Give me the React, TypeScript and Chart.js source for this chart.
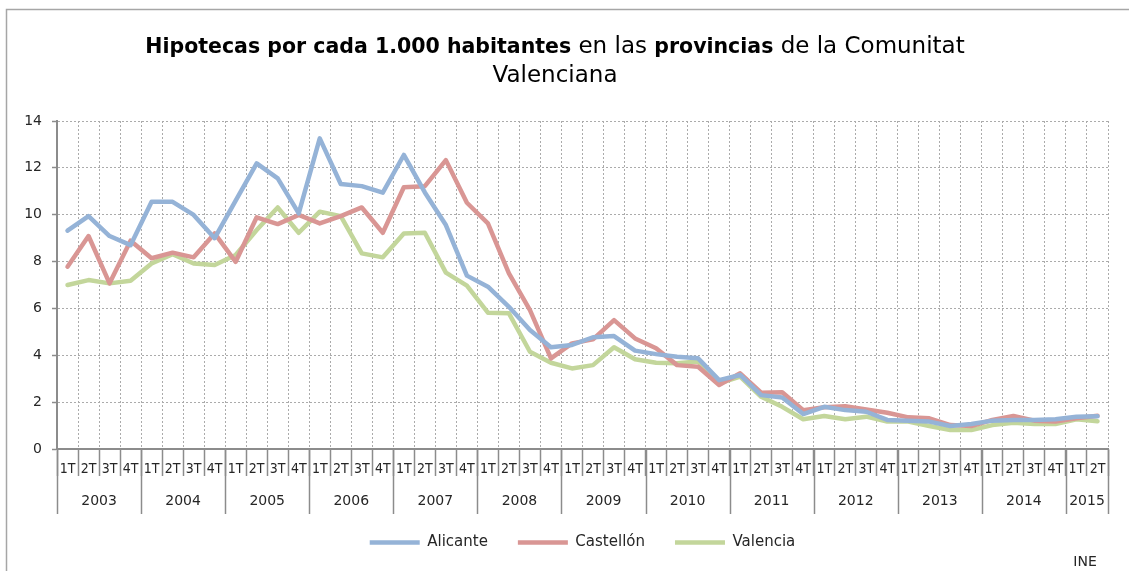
import React, { useEffect, useRef } from 'react';
import { Chart, registerables } from 'chart.js';

Chart.register(...registerables);

// ---- Data ----
const quarterLabels = [
  '1T', '2T', '3T', '4T', // 2003
  '1T', '2T', '3T', '4T', // 2004
  '1T', '2T', '3T', '4T', // 2005
  '1T', '2T', '3T', '4T', // 2006
  '1T', '2T', '3T', '4T', // 2007
  '1T', '2T', '3T', '4T', // 2008
  '1T', '2T', '3T', '4T', // 2009
  '1T', '2T', '3T', '4T', // 2010
  '1T', '2T', '3T', '4T', // 2011
  '1T', '2T', '3T', '4T', // 2012
  '1T', '2T', '3T', '4T', // 2013
  '1T', '2T', '3T', '4T', // 2014
  '1T', '2T',             // 2015
];

const years = ['2003', '2004', '2005', '2006', '2007', '2008', '2009', '2010', '2011', '2012', '2013', '2014', '2015'];
const quartersPerYear = [4, 4, 4, 4, 4, 4, 4, 4, 4, 4, 4, 4, 2];

const alicante = [
  9.32, 9.94, 9.09, 8.7,
  10.55, 10.55, 9.99, 9.0,
  10.6, 12.19, 11.55, 10.06,
  13.26, 11.31, 11.22, 10.94,
  12.55, 10.95, 9.56, 7.4,
  6.93, 6.07, 5.08, 4.34,
  4.44, 4.77, 4.82, 4.2,
  4.05, 3.94, 3.87, 2.94,
  3.16, 2.3, 2.2, 1.49,
  1.8, 1.66, 1.59, 1.24,
  1.21, 1.17, 0.98, 1.07,
  1.21, 1.24, 1.24, 1.27,
  1.38, 1.4,
];

const castellon = [
  7.78, 9.09, 7.07, 8.89,
  8.14, 8.38, 8.18, 9.2,
  7.99, 9.89, 9.6, 9.99,
  9.63, 9.94, 10.31, 9.23,
  11.17, 11.22, 12.33, 10.51,
  9.63, 7.5, 5.93, 3.87,
  4.51, 4.68, 5.5, 4.72,
  4.3, 3.58, 3.51, 2.73,
  3.23, 2.4, 2.42, 1.66,
  1.78, 1.83, 1.69, 1.55,
  1.35, 1.31, 1.02, 0.98,
  1.24, 1.41, 1.21, 1.17,
  1.31, 1.42,
];

const valencia = [
  7.0, 7.21, 7.07, 7.18,
  7.92, 8.32, 7.92, 7.85,
  8.28, 9.35, 10.31, 9.23,
  10.13, 9.94, 8.35, 8.18,
  9.2, 9.23, 7.53, 6.97,
  5.82, 5.79, 4.15, 3.68,
  3.44, 3.58, 4.34, 3.83,
  3.68, 3.66, 3.73, 2.8,
  3.09, 2.23, 1.8, 1.27,
  1.41, 1.27, 1.38, 1.17,
  1.17, 0.98, 0.81, 0.81,
  1.02, 1.12, 1.07, 1.07,
  1.27, 1.18,
];

const seriesNames = ['Alicante', 'Castellón', 'Valencia'];
const seriesColors = ['#95B3D7', '#D99694', '#C3D69B'];

const titleLine1 = [
  { text: 'Hipotecas por cada 1.000 habitantes', bold: true },
  { text: ' en las ', bold: false },
  { text: 'provincias', bold: true },
  { text: ' de la Comunitat', bold: false },
];
const titleLine2 = [{ text: 'Valenciana', bold: false }];
const sourceText = 'INE';

// ---- Styling constants ----
const FONT = "'DejaVu Sans', sans-serif";
const NARROW = "'Liberation Sans Narrow', 'DejaVu Sans Condensed', 'Liberation Sans', sans-serif";
const AXIS_COLOR = '#8c8c8c';
const GRID_COLOR = '#ababab';
const TEXT_COLOR = '#262626';

function drawRichLine(ctx: CanvasRenderingContext2D, segs: { text: string; bold: boolean }[], cx: number, baseline: number) {
  const fontFor = (b: boolean) => (b ? `bold 20.5px ${FONT}` : `23px ${FONT}`);
  let total = 0;
  const widths = segs.map((s) => {
    ctx.font = fontFor(s.bold);
    const w = ctx.measureText(s.text).width;
    total += w;
    return w;
  });
  let x = cx - total / 2;
  ctx.textAlign = 'left';
  ctx.textBaseline = 'alphabetic';
  ctx.fillStyle = '#000';
  segs.forEach((s, i) => {
    ctx.font = fontFor(s.bold);
    ctx.fillText(s.text, x, baseline);
    x += widths[i];
  });
}

const decorPlugin = {
  id: 'decor',
  beforeDraw(chart: any) {
    const ctx = chart.ctx as CanvasRenderingContext2D;
    ctx.save();
    ctx.fillStyle = '#ffffff';
    ctx.fillRect(0, 0, chart.width, chart.height);
    ctx.restore();
  },
  afterDraw(chart: any) {
    const ctx = chart.ctx as CanvasRenderingContext2D;
    const xs = chart.scales.x;
    const area = chart.chartArea;
    ctx.save();

    // outer frame
    ctx.strokeStyle = '#a6a6a6';
    ctx.lineWidth = 1.5;
    ctx.strokeRect(6.5, 9.5, 1400, 1000);

    // title
    drawRichLine(ctx, titleLine1, 555, 53);
    drawRichLine(ctx, titleLine2, 555, 82);

    // year groups
    const step = xs.getPixelForValue(1) - xs.getPixelForValue(0);
    const sepBottom = area.bottom + 65;
    ctx.strokeStyle = AXIS_COLOR;
    ctx.lineWidth = 1.5;
    ctx.fillStyle = TEXT_COLOR;
    ctx.font = `14px ${FONT}`;
    ctx.textAlign = 'center';
    ctx.textBaseline = 'middle';
    let idx = 0;
    let lastRight = 0;
    years.forEach((yr, k) => {
      const n = quartersPerYear[k];
      const left = xs.getPixelForValue(idx) - step / 2;
      const right = xs.getPixelForValue(idx + n - 1) + step / 2;
      ctx.beginPath();
      ctx.moveTo(Math.round(left) + 0.5, area.bottom);
      ctx.lineTo(Math.round(left) + 0.5, sepBottom);
      ctx.stroke();
      ctx.fillText(yr, (left + right) / 2, area.bottom + 52);
      idx += n;
      lastRight = right;
    });
    ctx.beginPath();
    ctx.moveTo(Math.round(lastRight) + 0.5, area.bottom);
    ctx.lineTo(Math.round(lastRight) + 0.5, sepBottom);
    ctx.stroke();

    // source
    ctx.font = `14px ${FONT}`;
    ctx.textAlign = 'center';
    ctx.fillStyle = TEXT_COLOR;
    ctx.fillText(sourceText, 1085, 562);

    ctx.restore();
  },
};

export default function App() {
  const canvasRef = useRef<HTMLCanvasElement>(null);

  useEffect(() => {
    const canvas = canvasRef.current;
    if (!canvas) return;
    const seriesData = [alicante, castellon, valencia];
    const chart = new Chart(canvas, {
      type: 'line',
      data: {
        labels: quarterLabels,
        datasets: seriesNames.map((name, i) => ({
          label: name,
          data: seriesData[i],
          borderColor: seriesColors[i],
          backgroundColor: seriesColors[i],
          borderWidth: 4.5,
          pointRadius: 0,
          pointHoverRadius: 0,
          tension: 0,
          borderJoinStyle: 'round' as const,
          borderCapStyle: 'round' as const,
          fill: false,
        })),
      },
      options: {
        responsive: false,
        animation: false,
        devicePixelRatio: 1,
        layout: { padding: { top: 121, right: 21, left: 0, bottom: 11 } },
        plugins: {
          legend: {
            position: 'bottom',
            fullSize: false,
            labels: {
              usePointStyle: true,
              pointStyle: 'line',
              pointStyleWidth: 50,
              padding: 30,
              color: TEXT_COLOR,
              font: { family: FONT, size: 15 },
            },
          },
          title: { display: false },
          tooltip: { enabled: false },
        },
        scales: {
          x: {
            type: 'category',
            offset: true,
            grid: {
              offset: true,
              color: GRID_COLOR,
              lineWidth: 1,
              tickLength: 27,
              tickColor: AXIS_COLOR,
              tickWidth: 1.5,
              tickBorderDash: [],
            },
            border: { display: true, color: AXIS_COLOR, width: 2, dash: [2, 2] },
            ticks: {
              autoSkip: false,
              maxRotation: 0,
              minRotation: 0,
              padding: -15,
              color: TEXT_COLOR,
              font: { family: NARROW, size: 14 },
            },
            afterFit: (s: any) => {
              s.height = 56;
            },
          },
          y: {
            min: 0,
            max: 14,
            ticks: {
              stepSize: 2,
              padding: 10,
              color: TEXT_COLOR,
              font: { family: FONT, size: 14 },
            },
            grid: {
              color: GRID_COLOR,
              lineWidth: 1,
              tickLength: 5,
              tickColor: AXIS_COLOR,
              tickWidth: 1.5,
              tickBorderDash: [],
            },
            border: { display: true, color: AXIS_COLOR, width: 2, dash: [2, 2] },
            afterFit: (s: any) => {
              s.width = 57;
            },
          },
        },
      },
      plugins: [decorPlugin],
    } as any);
    return () => chart.destroy();
  }, []);

  return (
    <div
      style={{
        position: 'fixed',
        left: 0,
        top: 0,
        width: 1129,
        height: 571,
        overflow: 'hidden',
        background: '#ffffff',
      }}
    >
      <canvas ref={canvasRef} width={1129} height={571} style={{ display: 'block', width: 1129, height: 571 }} />
    </div>
  );
}
